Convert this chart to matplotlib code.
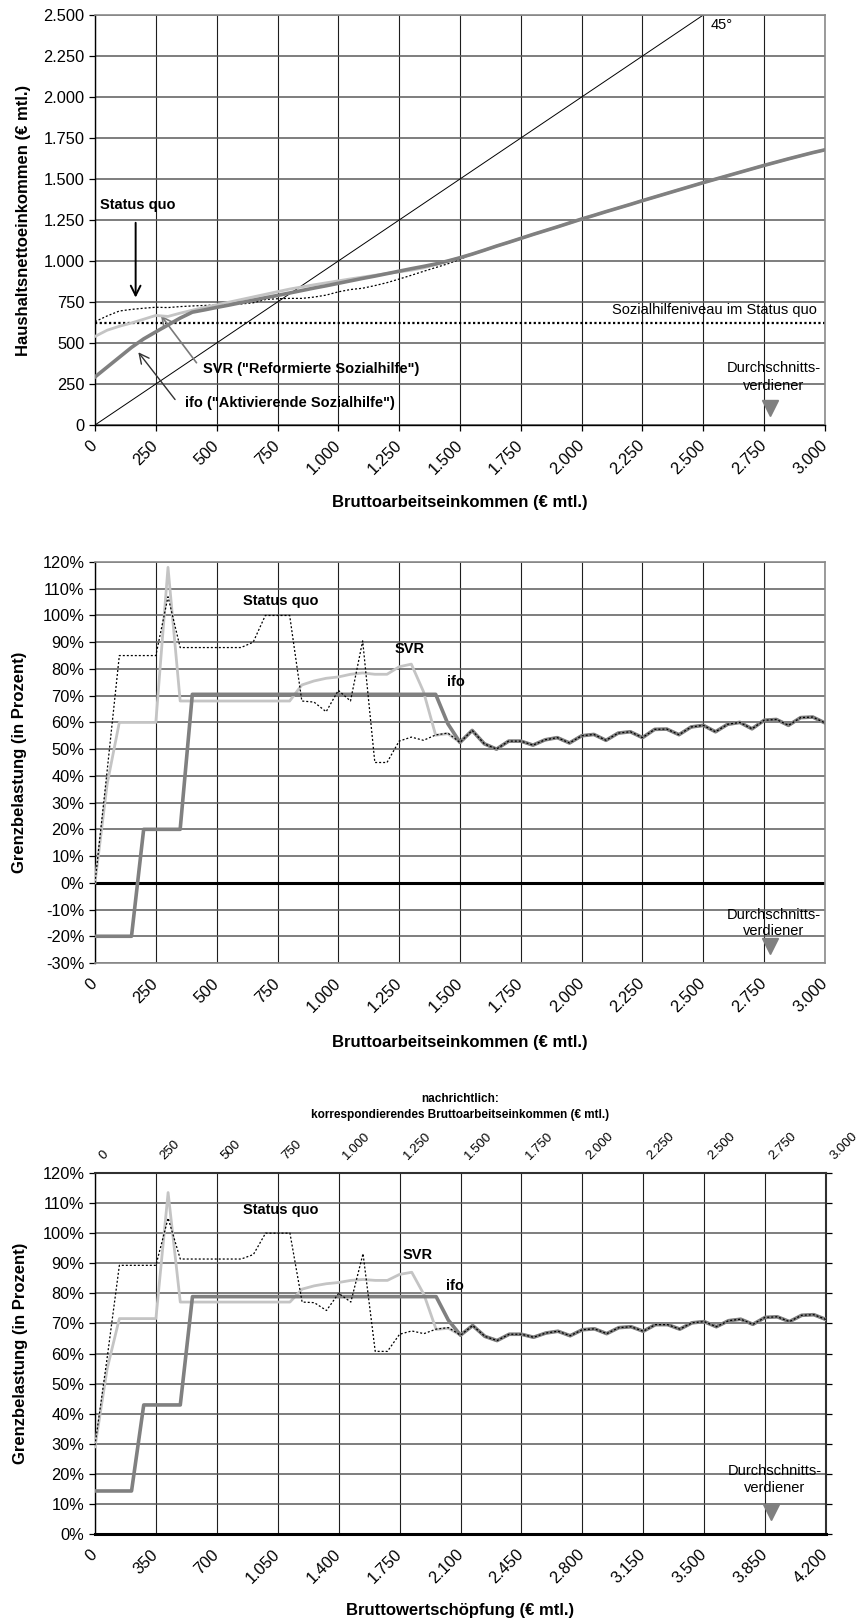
import matplotlib
matplotlib.use("Agg")
import matplotlib.pyplot as plt
from matplotlib.transforms import ScaledTranslation

plt.rcParams['font.family'] = ['Liberation Sans', 'DejaVu Sans']

# ---------------- data ----------------
brutto = [0, 50, 100, 150, 200, 250, 300, 350, 400, 450, 500, 550, 600, 650, 700, 750,
          800, 850, 900, 950, 1000, 1050, 1100, 1150, 1200, 1250, 1300, 1350, 1400, 1450,
          1500, 1550, 1600, 1650, 1700, 1750, 1800, 1850, 1900, 1950, 2000, 2050, 2100,
          2150, 2200, 2250, 2300, 2350, 2400, 2450, 2500, 2550, 2600, 2650, 2700, 2750,
          2800, 2850, 2900, 2950, 3000]
bws = [0, 70, 140, 210, 280, 350, 420, 490, 560, 630, 700, 770, 840, 910, 980, 1050,
       1120, 1190, 1260, 1330, 1400, 1470, 1540, 1610, 1680, 1750, 1820, 1890, 1960, 2030,
       2100, 2170, 2240, 2310, 2380, 2450, 2520, 2590, 2660, 2730, 2800, 2870, 2940,
       3010, 3080, 3150, 3220, 3290, 3360, 3430, 3500, 3570, 3640, 3710, 3780, 3850,
       3920, 3990, 4060, 4130, 4200]

# Panel 1: Haushaltsnettoeinkommen (EUR mtl.)
net_tail = [1042, 1066, 1091, 1114, 1138, 1162, 1185, 1208, 1232, 1256, 1278, 1301, 1323,
            1345, 1368, 1390, 1412, 1434, 1456, 1478, 1499, 1520, 1541, 1562, 1583, 1603,
            1623, 1642, 1661, 1678]  # 1550..3000
net_ifo_head = [293, 353, 413, 473, 525, 568, 610, 652, 688, 702, 717, 731, 746, 761, 776,
                790, 805, 820, 835, 849, 864, 879, 894, 908, 923, 938, 953, 967, 982, 1000,
                1020]  # 0..1500
net_svr_head = [540, 578, 602, 622, 645, 668, 662, 682, 700, 717, 733, 749, 765, 781, 797,
                813, 829, 842, 855, 867, 879, 891, 902, 913, 924, 934, 944, 958, 978, 1000,
                1020]
net_sq_head = [630, 665, 695, 705, 712, 718, 716, 722, 726, 729, 732, 735, 738, 745, 765,
               770, 772, 772, 780, 792, 812, 826, 834, 850, 868, 890, 913, 937, 960, 983,
               1010]
net_ifo = net_ifo_head + net_tail
net_svr = net_svr_head + net_tail
net_sq = net_sq_head + net_tail
diag45 = [0, 2500]
sozialhilfe_niveau = 622

# Panel 2: Grenzbelastung in % vs Bruttoarbeitseinkommen
rate_tail = [52.5, 57, 52, 50, 53, 53, 51.5, 53.5, 54.3, 52.3, 55, 55.5, 53.3, 56, 56.5,
             54.3, 57.4, 57.5, 55.4, 58.3, 58.9, 56.5, 59.3, 60, 57.6, 60.8, 61.1, 58.9,
             61.8, 62, 59.8]  # 1500..3000
rate_ifo_head = [-20, -20, -20, -20, 20, 20, 20, 20, 70.5, 70.5, 70.5, 70.5, 70.5, 70.5,
                 70.5, 70.5, 70.5, 70.5, 70.5, 70.5, 70.5, 70.5, 70.5, 70.5, 70.5, 70.5,
                 70.5, 70.5, 70.5, 59.5]  # 0..1450
rate_svr_head = [0, 37, 60, 60, 60, 60, 118, 68, 68, 68, 68, 68, 68, 68, 68, 68, 68, 74,
                 75.5, 76.5, 77, 78, 78.5, 78, 78, 80.8, 81.8, 71.5, 55.2, 55.8]
rate_sq_head = [0, 42, 85, 85, 85, 85, 107, 88, 88, 88, 88, 88, 88, 90, 100, 100, 100, 68,
                67.6, 64, 72, 68, 90.5, 45, 45, 53, 54.5, 53.3, 55.3, 56]
rate_ifo = rate_ifo_head + rate_tail
rate_svr = rate_svr_head + rate_tail
rate_sq = rate_sq_head + rate_tail

# Panel 3: Grenzbelastung in % vs Bruttowertschoepfung
rate3_tail = [66.1, 69.3, 65.7, 64.3, 66.4, 66.4, 65.4, 66.8, 67.4, 65.9, 67.9, 68.2, 66.6,
              68.6, 68.9, 67.4, 69.6, 69.6, 68.1, 70.2, 70.6, 68.9, 70.9, 71.4, 69.7, 72,
              72.2, 70.6, 72.7, 72.9, 71.3]
rate3_ifo_head = [14.3, 14.3, 14.3, 14.3, 42.9, 42.9, 42.9, 42.9, 78.9, 78.9, 78.9, 78.9,
                  78.9, 78.9, 78.9, 78.9, 78.9, 78.9, 78.9, 78.9, 78.9, 78.9, 78.9, 78.9,
                  78.9, 78.9, 78.9, 78.9, 78.9, 71.1]
rate3_svr_head = [29, 55, 71.6, 71.6, 71.6, 71.6, 113.5, 77.1, 77.1, 77.1, 77.1, 77.1, 77.1,
                  77.1, 77.1, 77.1, 77.1, 81.4, 82.5, 83.2, 83.6, 84.3, 84.6, 84.3, 84.3,
                  86.3, 87, 79.6, 68, 68.4]
rate3_sq_head = [29.5, 58.6, 89.3, 89.3, 89.3, 89.3, 105, 91.4, 91.4, 91.4, 91.4, 91.4, 91.4,
                 92.9, 100, 100, 100, 77.1, 76.9, 74.3, 80, 77.1, 93.2, 60.7, 60.7, 66.4,
                 67.5, 66.6, 68.1, 68.6]
rate3_ifo = rate3_ifo_head + rate3_tail
rate3_svr = rate3_svr_head + rate3_tail
rate3_sq = rate3_sq_head + rate3_tail

avg_earner_brutto = 2775
avg_earner_bws = 3885

# ticks / labels
x1_ticks = [0, 250, 500, 750, 1000, 1250, 1500, 1750, 2000, 2250, 2500, 2750, 3000]
x1_labels = ['0', '250', '500', '750', '1.000', '1.250', '1.500', '1.750', '2.000',
             '2.250', '2.500', '2.750', '3.000']
y1_ticks = [0, 250, 500, 750, 1000, 1250, 1500, 1750, 2000, 2250, 2500]
y1_labels = ['0', '250', '500', '750', '1.000', '1.250', '1.500', '1.750', '2.000',
             '2.250', '2.500']
y2_ticks = [-30, -20, -10, 0, 10, 20, 30, 40, 50, 60, 70, 80, 90, 100, 110, 120]
y3_ticks = [0, 10, 20, 30, 40, 50, 60, 70, 80, 90, 100, 110, 120]
x3_ticks = [0, 350, 700, 1050, 1400, 1750, 2100, 2450, 2800, 3150, 3500, 3850, 4200]
x3_labels = ['0', '350', '700', '1.050', '1.400', '1.750', '2.100', '2.450', '2.800',
             '3.150', '3.500', '3.850', '4.200']

# ---------------- style ----------------
C_IFO = '#808080'
C_SVR = '#c4c4c4'
C_SQ = '#000000'
TICK_FS = 11.8
LAB_FS = 12
ANN_FS = 10.5

W, H = 860, 1623
fig = plt.figure(figsize=(W / 100, H / 100), dpi=100)


def fax(l, t, r, b):
    return fig.add_axes([l / W, 1 - b / H, (r - l) / W, (b - t) / H])


def style_grid(ax):
    ax.set_axisbelow(True)
    ax.yaxis.grid(True, color='#5a5a5a', lw=1.1)
    ax.xaxis.grid(True, color='#1e1e1e', lw=0.8)


def rot_xlabels(ax, ticks, labels):
    ax.set_xticks(ticks)
    ax.set_xticklabels(labels, rotation=45, ha='right', va='center',
                       rotation_mode='anchor', fontsize=TICK_FS)


sq_style = dict(color=C_SQ, lw=0.9, linestyle=(0, (1.6, 1.6)))

# ================= Panel 1 =================
ax1 = fax(95, 15, 825, 425)
ax1.set_xlim(0, 3000)
ax1.set_ylim(0, 2500)
style_grid(ax1)
ax1.plot(diag45, diag45, color='black', lw=0.7, zorder=2)
ax1.axhline(sozialhilfe_niveau, color='black', lw=1.6, linestyle=(0, (1, 1.1)), zorder=2)
ax1.plot(brutto, net_sq, zorder=3, **sq_style)
ax1.plot(brutto, net_svr, color=C_SVR, lw=2.0, zorder=4)
ax1.plot(brutto, net_ifo, color=C_IFO, lw=2.6, zorder=5)
ax1.set_yticks(y1_ticks)
ax1.set_yticklabels(y1_labels, fontsize=TICK_FS)
rot_xlabels(ax1, x1_ticks, x1_labels)
ax1.tick_params(axis='both', direction='out', length=4, width=0.9, color='black')
ax1.tick_params(axis='x', pad=9)
for s in ['left', 'bottom']:
    ax1.spines[s].set_color('black'); ax1.spines[s].set_linewidth(1.0)
for s in ['top', 'right']:
    ax1.spines[s].set_color('#8a8a8a'); ax1.spines[s].set_linewidth(1.2)

ax1.text(2530, 2440, '45°', fontsize=ANN_FS, ha='left', va='center')
ax1.text(2965, 700, 'Sozialhilfeniveau im Status quo', fontsize=ANN_FS, ha='right', va='center')
ax1.text(20, 1342, 'Status quo', fontsize=ANN_FS, weight='bold', ha='left', va='center')
ax1.annotate('', xy=(167, 760), xytext=(167, 1250),
             arrowprops=dict(arrowstyle='->,head_length=0.7,head_width=0.35', color='black', lw=1.4))
ax1.text(444, 342, 'SVR ("Reformierte Sozialhilfe")', fontsize=ANN_FS, weight='bold',
         ha='left', va='center')
ax1.annotate('', xy=(264, 681), xytext=(424, 366),
             arrowprops=dict(arrowstyle='->,head_length=0.7,head_width=0.35', color='#7a7a7a', lw=1.2))
ax1.text(370, 134, 'ifo ("Aktivierende Sozialhilfe")', fontsize=ANN_FS, weight='bold',
         ha='left', va='center')
ax1.annotate('', xy=(171, 457), xytext=(336, 142),
             arrowprops=dict(arrowstyle='->,head_length=0.7,head_width=0.35', color='#333333', lw=1.0))
ax1.text(2790, 348, 'Durchschnitts-', fontsize=ANN_FS, ha='center', va='center')
ax1.text(2790, 238, 'verdiener', fontsize=ANN_FS, ha='center', va='center')
ax1.plot([avg_earner_brutto], [104], marker='v', color=C_IFO, ms=11, zorder=6)

fig.text(460 / W, 1 - 502 / H, 'Bruttoarbeitseinkommen (€ mtl.)', fontsize=LAB_FS,
         weight='bold', ha='center', va='center')
fig.text(24 / W, 1 - 220 / H, 'Haushaltsnettoeinkommen (€ mtl.)', fontsize=LAB_FS,
         weight='bold', ha='center', va='center', rotation=90)

# ================= Panel 2 =================
ax2 = fax(95, 562, 825, 963)
ax2.set_xlim(0, 3000)
ax2.set_ylim(-30, 120)
style_grid(ax2)
ax2.axhline(0, color='black', lw=2.2, zorder=2)
ax2.plot(brutto, rate_svr, color=C_SVR, lw=2.0, zorder=3)
ax2.plot(brutto, rate_ifo, color=C_IFO, lw=2.6, zorder=4)
ax2.plot(brutto, rate_sq, zorder=5, **sq_style)
ax2.set_yticks(y2_ticks)
ax2.set_yticklabels([f'{v}%' for v in y2_ticks], fontsize=TICK_FS)
rot_xlabels(ax2, x1_ticks, x1_labels)
ax2.tick_params(axis='y', direction='out', length=4, width=0.9)
ax2.tick_params(axis='x', length=0, pad=13)
ax2.spines['left'].set_color('black'); ax2.spines['left'].set_linewidth(1.0)
for s in ['top', 'right', 'bottom']:
    ax2.spines[s].set_color('#8a8a8a'); ax2.spines[s].set_linewidth(1.2)

ax2.text(609, 105.4, 'Status quo', fontsize=ANN_FS, weight='bold', ha='left', va='center')
ax2.text(1230, 87.4, 'SVR', fontsize=ANN_FS, weight='bold', ha='left', va='center')
ax2.text(1445, 75, 'ifo', fontsize=ANN_FS, weight='bold', ha='left', va='center')
ax2.text(2790, -11.9, 'Durchschnitts-', fontsize=ANN_FS, ha='center', va='center')
ax2.text(2790, -18.2, 'verdiener', fontsize=ANN_FS, ha='center', va='center')
ax2.plot([avg_earner_brutto], [-23.6], marker='v', color=C_IFO, ms=11, zorder=6)

fig.text(460 / W, 1 - 1043 / H, 'Bruttoarbeitseinkommen (€ mtl.)', fontsize=LAB_FS,
         weight='bold', ha='center', va='center')
fig.text(20 / W, 1 - 762 / H, 'Grenzbelastung (in Prozent)', fontsize=LAB_FS,
         weight='bold', ha='center', va='center', rotation=90)

# ================= Panel 3 =================
ax3 = fax(95, 1173, 826, 1534)
ax3.set_xlim(0, 4200)
ax3.set_ylim(0, 120)
style_grid(ax3)
ax3.plot(bws, rate3_svr, color=C_SVR, lw=2.0, zorder=3)
ax3.plot(bws, rate3_ifo, color=C_IFO, lw=2.6, zorder=4)
ax3.plot(bws, rate3_sq, zorder=5, **sq_style)
ax3.set_yticks(y3_ticks)
ax3.set_yticklabels([f'{v}%' for v in y3_ticks], fontsize=TICK_FS)
rot_xlabels(ax3, x3_ticks, x3_labels)
ax3.tick_params(axis='y', direction='out', length=4, width=0.9, right=True)
ax3.tick_params(axis='x', length=0, pad=13)
ax3.spines['left'].set_color('black'); ax3.spines['left'].set_linewidth(1.0)
ax3.spines['bottom'].set_color('black'); ax3.spines['bottom'].set_linewidth(2.2)
ax3.spines['top'].set_color('#303030'); ax3.spines['top'].set_linewidth(1.5)
ax3.spines['right'].set_color('#303030'); ax3.spines['right'].set_linewidth(1.5)

ax3t = ax3.twiny()
ax3t.set_xlim(0, 3000)
ax3t.set_xticks(x1_ticks)
ax3t.set_xticklabels(x1_labels, rotation=45, ha='left', va='center',
                     rotation_mode='anchor', fontsize=9.5)
ax3t.tick_params(axis='x', length=0, pad=11)
shift = ScaledTranslation(6 / 100, 0, fig.dpi_scale_trans)
for lbl in ax3t.get_xticklabels():
    lbl.set_transform(lbl.get_transform() + shift)
for s in ax3t.spines.values():
    s.set_visible(False)

ax3.text(849, 107.6, 'Status quo', fontsize=ANN_FS, weight='bold', ha='left', va='center')
ax3.text(1767, 92.7, 'SVR', fontsize=ANN_FS, weight='bold', ha='left', va='center')
ax3.text(2019, 82.4, 'ifo', fontsize=ANN_FS, weight='bold', ha='left', va='center')
ax3.text(3905, 20.9, 'Durchschnitts-', fontsize=ANN_FS, ha='center', va='center')
ax3.text(3905, 15.2, 'verdiener', fontsize=ANN_FS, ha='center', va='center')
ax3.plot([avg_earner_bws], [7.3], marker='v', color=C_IFO, ms=11, zorder=6)

fig.text(460 / W, 1 - 1107 / H,
         'nachrichtlich:\nkorrespondierendes Bruttoarbeitseinkommen (€ mtl.)',
         fontsize=8.5, weight='bold', ha='center', va='center', linespacing=1.35)
fig.text(460 / W, 1 - 1610 / H, 'Bruttowertschöpfung (€ mtl.)', fontsize=LAB_FS,
         weight='bold', ha='center', va='center')
fig.text(21 / W, 1 - 1353 / H, 'Grenzbelastung (in Prozent)', fontsize=LAB_FS,
         weight='bold', ha='center', va='center', rotation=90)

fig.savefig('out.png', dpi=100)
